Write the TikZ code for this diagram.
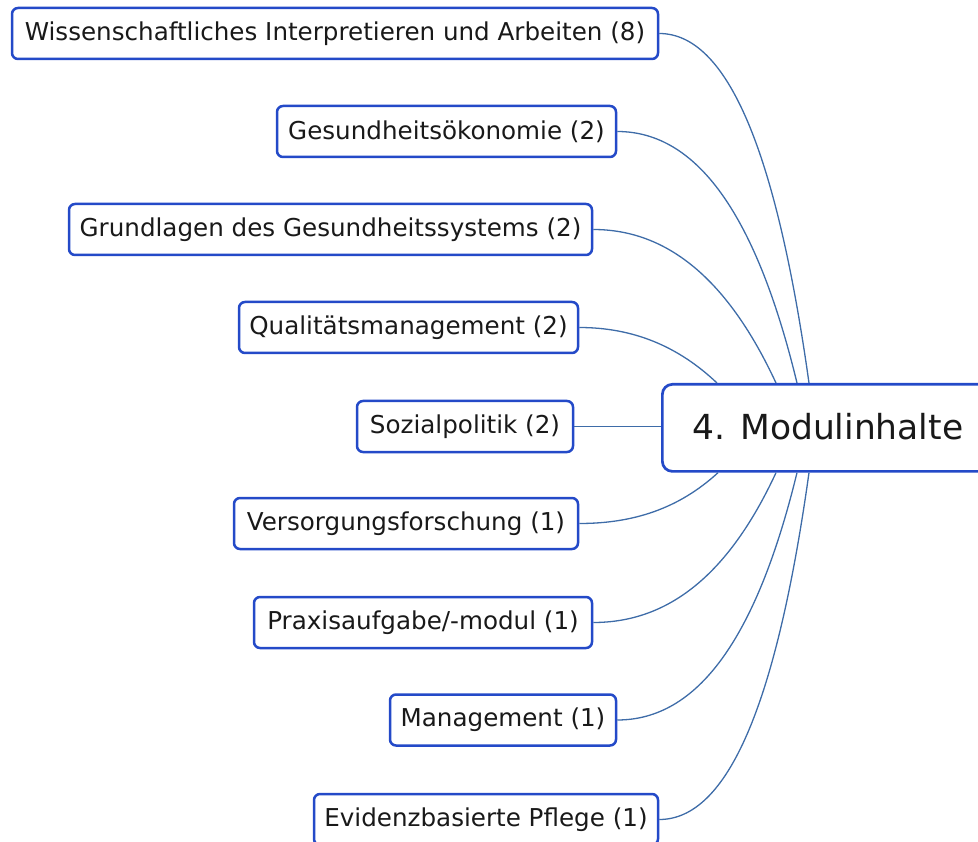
\documentclass[tikz,border=0pt]{standalone}
\usepackage{fontspec}
\setmainfont{DejaVu Sans}
\definecolor{boxblue}{RGB}{36,74,200}
\definecolor{linkblue}{RGB}{62,108,168}
\definecolor{txt}{RGB}{25,25,25}
\tikzset{
  topic/.style={draw=boxblue, line width=2.5pt, rounded corners=6pt, fill=white,
    inner sep=0pt, minimum height=51pt, text=txt, font=\fontsize{24.6}{28}\selectfont},
  central/.style={draw=boxblue, line width=2.7pt, rounded corners=10pt, fill=white,
    inner sep=0pt, minimum height=87pt, minimum width=340pt, text=txt},
  link/.style={draw=linkblue, line width=1.3pt}
}
\begin{document}
\begin{tikzpicture}[x=1pt,y=-1pt]
\useasboundingbox (0,0) rectangle (978,842);
\clip (0,0) rectangle (978,842);
\node[central, anchor=north west] (c) at (661,383) {};
\node[text=txt, font=\fontsize{34.5}{40}\selectfont] (ct) at (828,427) {4. Modulinhalte};

\node[topic, minimum width=646pt] (w) at (335,33.5) {Wissenschaftliches Interpretieren und Arbeiten (8)};
\node[topic, minimum width=339pt] (g) at (446.5,131.5) {Gesundheitsökonomie (2)};
\node[topic, minimum width=523pt] (gr) at (330.5,229.5) {Grundlagen des Gesundheitssystems (2)};
\node[topic, minimum width=339pt] (q) at (408.5,327.5) {Qualitätsmanagement (2)};
\node[topic, minimum width=216pt] (s) at (465,426.5) {Sozialpolitik (2)};
\node[topic, minimum width=344pt] (v) at (406,523.5) {Versorgungsforschung (1)};
\node[topic, minimum width=338pt] (p) at (423,622.5) {Praxisaufgabe/-modul (1)};
\node[topic, minimum width=226pt] (m) at (503,720) {Management (1)};
\node[topic, minimum width=344pt] (e) at (486,819.5) {Evidenzbasierte Pflege (1)};

\draw[link] (w.east) .. controls +(68,0) and +(-32.7,-232.7) .. ([xshift=148pt]c.north west);
\draw[link] (g.east) .. controls +(80,0) and +(-40.7,-168) .. ([xshift=136pt]c.north west);
\draw[link] (gr.east) .. controls +(75.3,0) and +(-47.3,-102) .. ([xshift=115pt]c.north west);
\draw[link] (q.east) .. controls +(54,0) and +(-38.7,-36.7) .. ([xshift=56pt]c.north west);
\draw[link] (s.east) -- (s.east -| c.west);
\draw[link] (v.east) .. controls +(54,0) and +(-39.3,36) .. ([xshift=57pt]c.south west);
\draw[link] (p.east) .. controls +(75.3,0) and +(-47.3,102) .. ([xshift=115pt]c.south west);
\draw[link] (m.east) .. controls +(80,0) and +(-40.7,166.7) .. ([xshift=136pt]c.south west);
\draw[link] (e.east) .. controls +(68,0) and +(-32.7,233.3) .. ([xshift=148pt]c.south west);
\end{tikzpicture}
\end{document}
